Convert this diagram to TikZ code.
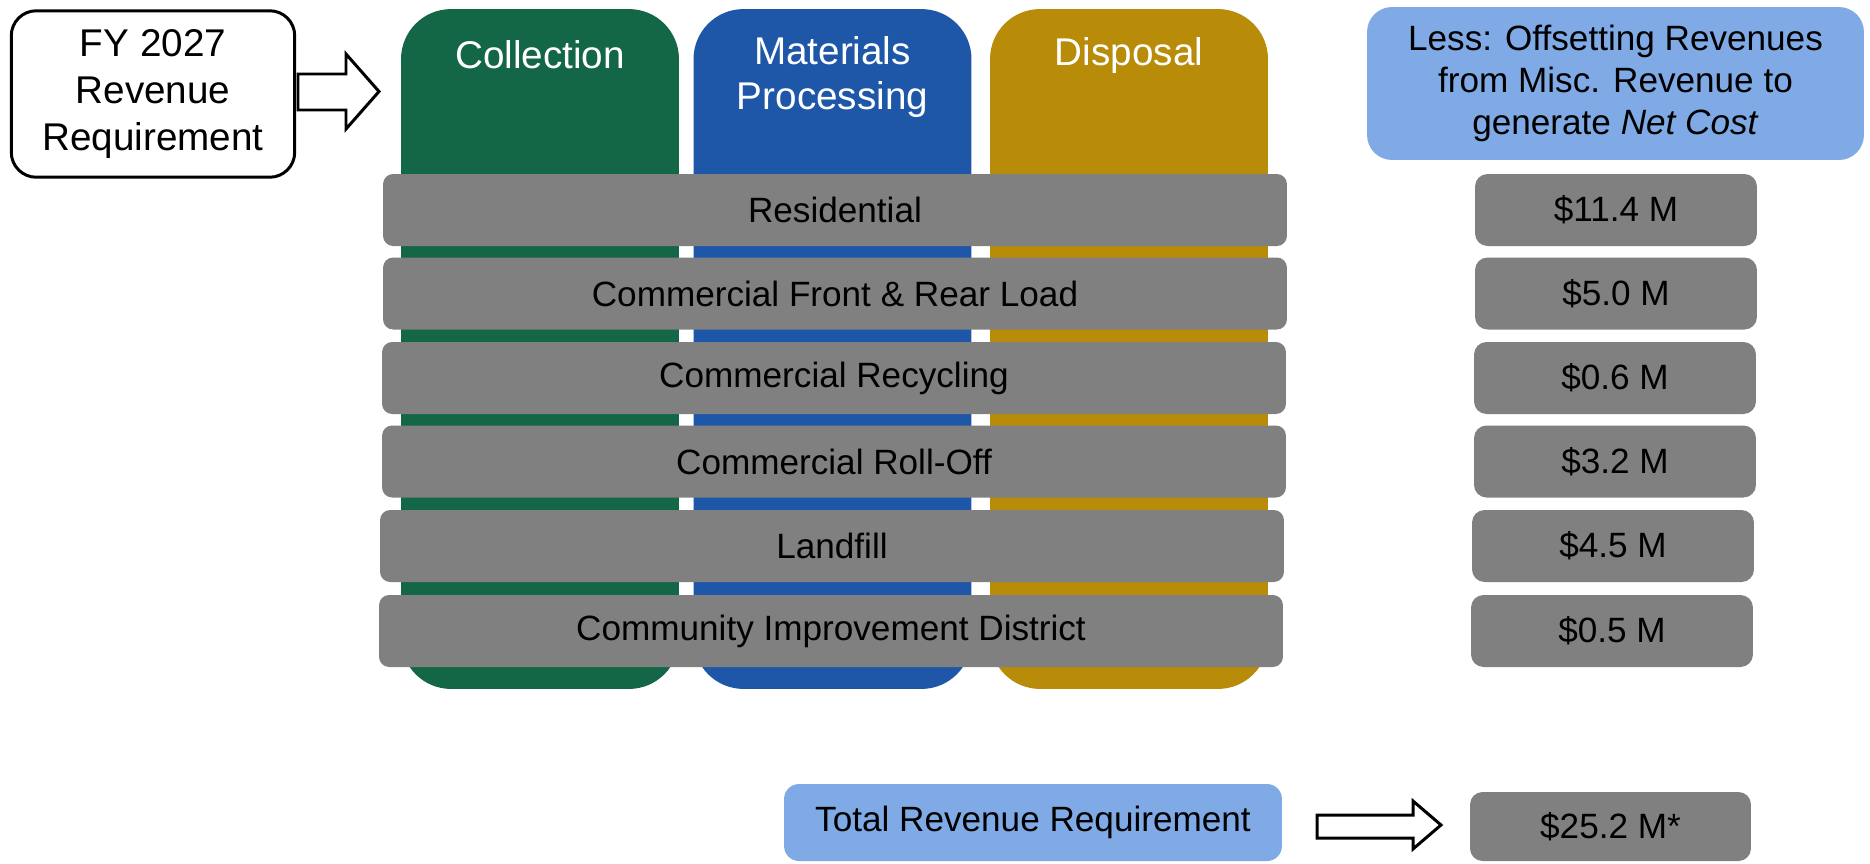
\documentclass[tikz,border=0pt]{standalone}
\usepackage{fontspec}
\setmainfont{Liberation Sans}
\definecolor{colGreen}{RGB}{19,102,70}
\definecolor{colBlue}{RGB}{31,87,168}
\definecolor{colGold}{RGB}{184,139,8}
\definecolor{barGray}{RGB}{128,128,128}
\definecolor{lightBlue}{RGB}{127,170,230}
\begin{document}
\begin{tikzpicture}[x=0.02cm, y=-0.02cm,
    column/.style={rounded corners=1cm, minimum width=5.56cm, minimum height=13.6cm, inner sep=0pt},
    coltitle/.style={text=white, align=center, font=\fontsize{22}{26}\selectfont},
    bar/.style={fill=barGray, rounded corners=0.2cm, minimum width=18.08cm, minimum height=1.44cm,
        font=\fontsize{20}{24}\selectfont},
    value/.style={fill=barGray, rounded corners=0.25cm, minimum width=5.64cm, minimum height=1.44cm,
        font=\fontsize{20}{24}\selectfont},
    infobox/.style={fill=lightBlue, rounded corners=0.5cm, align=center, font=\fontsize{20}{23.7}\selectfont},
    hollowarrow/.style={draw, line width=1.7pt, fill=white, line join=miter}]
\useasboundingbox (0,0) rectangle (1870,863);

% ========= 左侧：起点框 + 箭头 =========
\node[draw, line width=1.7pt, rounded corners=0.5cm, minimum width=5.67cm, minimum height=3.33cm,
    align=center, font=\fontsize{22}{26.5}\selectfont] (fy) at (153,94) {FY 2027\\Revenue\\Requirement};
\draw[hollowarrow] (298,74) -- (346,74) -- (346,54) -- (379,91.5) -- (346,129) -- (346,110) -- (298,110) -- cycle;

% ========= 三个竖列 =========
\node[column, fill=colGreen] (collection) at (540,349) {};
\node[column, fill=colBlue] (materials) at (832.5,349) {};
\node[column, fill=colGold] (disposal) at (1129,349) {};
\node[coltitle] (collectionTitle) at (540,55) {Collection};
\node[coltitle] (materialsTitle) at (832.5,77) {Materials\\Processing};
\node[coltitle] (disposalTitle) at (1129,55) {Disposal};

% ========= 横条：各业务线 =========
\node[bar] (residential) at (835,210) {Residential};
\node[bar] (frontRear) at (835,293.5) {Commercial Front \& Rear Load};
\node[bar] (recycling) at (834,378) {Commercial Recycling};
\node[bar] (rollOff) at (834,461.5) {Commercial Roll-Off};
\node[bar] (landfill) at (832,546) {Landfill};
\node[bar] (cid) at (831,631) {Community Improvement District};

% ========= 右侧：抵减收入 =========
\node[infobox, minimum width=9.94cm, minimum height=3.06cm] (offset) at (1615.5,83.5)
    {Less: Offsetting Revenues\\from Misc. Revenue to\\generate \textit{Net Cost}};
\node[value] (residentialVal) at (1616,210) {\$11.4 M};
\node[value] (frontRearVal) at (1616,293.5) {\$5.0 M};
\node[value] (recyclingVal) at (1615,378) {\$0.6 M};
\node[value] (rollOffVal) at (1615,461.5) {\$3.2 M};
\node[value] (landfillVal) at (1613,546) {\$4.5 M};
\node[value] (cidVal) at (1612,631) {\$0.5 M};

% ========= 底部：合计 =========
\node[infobox, rounded corners=0.3cm, minimum width=9.96cm, minimum height=1.54cm] (total) at (1033,822.5)
    {Total Revenue Requirement};
\draw[hollowarrow] (1317,815) -- (1413,815) -- (1413,801) -- (1441,825) -- (1413,849) -- (1413,838) -- (1317,838) -- cycle;
\node[value, minimum width=5.62cm, minimum height=1.38cm] (totalVal) at (1610.5,826.5) {\$25.2 M*};
\end{tikzpicture}
\end{document}
